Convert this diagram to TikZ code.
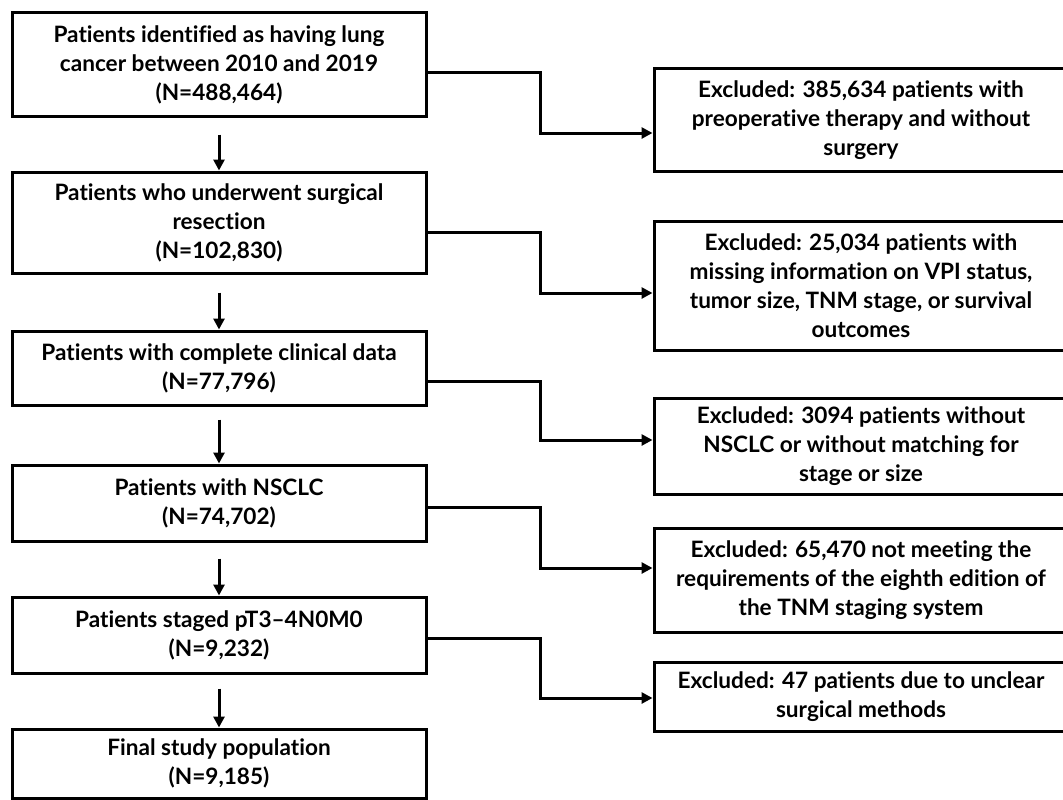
\documentclass[tikz,border=0pt]{standalone}
\usepackage{fontspec}
\setmainfont{Lato}[Ligatures=NoCommon]
\usetikzlibrary{arrows.meta}
\begin{document}
\begin{tikzpicture}[x=1pt,y=-1pt,
  box/.style={draw=black,line width=3pt,fill=white,align=center,inner sep=0pt,
    minimum width=414pt,font=\fontsize{22.6}{29}\selectfont\bfseries},
  arr/.style={line width=3pt,-{Triangle[length=11pt,width=11pt]}},
  conn/.style={line width=3pt,-{Triangle[length=11pt,width=11pt]}}]
\useasboundingbox[fill=white] (0,0) rectangle (1063,800);
% left column
\node[box,minimum height=103pt] (L1) at (219,64.5) {Patients identified as having lung\\cancer between 2010 and 2019\\(N=488,464)};
\node[box,minimum height=101pt] (L2) at (219,222.5) {Patients who underwent surgical\\resection\\(N=102,830)};
\node[box,minimum height=74pt] (L3) at (219,368) {Patients with complete clinical data\\(N=77,796)};
\node[box,minimum height=76pt] (L4) at (219,503) {Patients with NSCLC\\(N=74,702)};
\node[box,minimum height=76pt] (L5) at (219,635) {Patients staged pT3–4N0M0\\(N=9,232)};
\node[box,minimum height=69pt] (L6) at (219,763.5) {Final study population\\(N=9,185)};
% right column
\node[box,minimum height=102pt] (R1) at (861,120) {Excluded: 385,634 patients with\\preoperative therapy and without\\surgery};
\node[box,minimum height=129pt] (R2) at (861,285.5) {Excluded: 25,034 patients with\\missing information on VPI status,\\tumor size, TNM stage, or survival\\outcomes};
\node[box,minimum height=96pt] (R3) at (861,446) {Excluded: 3094 patients without\\NSCLC or without matching for\\stage or size};
\node[box,minimum height=104pt] (R4) at (861,580) {Excluded: 65,470 not meeting the\\requirements of the eighth edition of\\the TNM staging system};
\node[box,minimum height=69pt] (R5) at (861,696.5) {Excluded: 47 patients due to unclear\\surgical methods};
% down arrows
\draw[arr] ([yshift=-17pt]L1.south) -- (L2.north);
\draw[arr] ([yshift=-18pt]L2.south) -- (L3.north);
\draw[arr] ([yshift=-13pt]L3.south) -- (L4.north);
\draw[arr] ([yshift=-16pt]L4.south) -- (L5.north);
\draw[arr] ([yshift=-14pt]L5.south) -- (L6.north);
% exclusion connectors
\draw[conn] ([yshift=-8.5pt]L1.east) -- ++(113,0) |- ([yshift=-13pt]R1.west);
\draw[conn] ([yshift=-9.5pt]L2.east) -- ++(113,0) |- ([yshift=-7.5pt]R2.west);
\draw[conn] ([yshift=-13pt]L3.east) -- ++(113,0) |- ([yshift=6pt]R3.west);
\draw[conn] ([yshift=-4pt]L4.east) -- ++(113,0) |- ([yshift=12pt]R4.west);
\draw[conn] ([yshift=-3pt]L5.east) -- ++(113,0) |- ([yshift=-1.5pt]R5.west);
\end{tikzpicture}
\end{document}
